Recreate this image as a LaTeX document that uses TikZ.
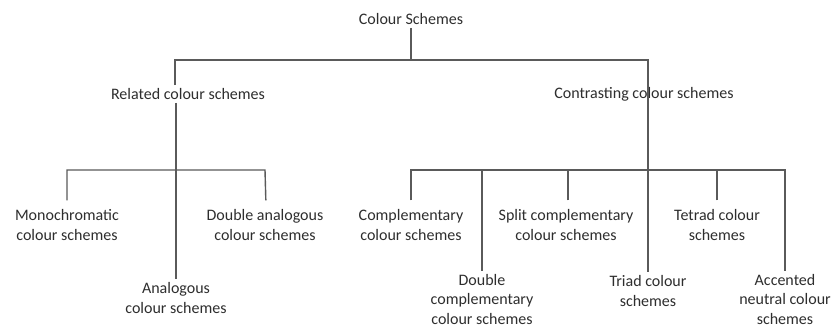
\documentclass[tikz,border=0pt]{standalone}
\usepackage{fontspec}
\setmainfont{Carlito}
\definecolor{txt}{HTML}{2E2E2E}
\definecolor{lnc}{HTML}{5A5A5A}
\begin{document}
\begin{tikzpicture}[x=1pt,y=-1pt,
  lbl/.style={text=txt,align=center,inner sep=3pt,font=\fontsize{16}{19.5}\selectfont},
  ln/.style={draw=lnc,line width=1.4pt},
  short/.style={shorten <=6pt}]
\fill[white] (0,0) rectangle (837,327);
\useasboundingbox (0,0) rectangle (837,327);
\coordinate (h1) at (0,60);
\coordinate (h2) at (0,170);
\node[lbl] (root) at (411,19) {Colour Schemes};
\node[lbl] (rel) at (188,94) {Related colour schemes};
\node[lbl] (con) at (644,94) {Contrasting colour schemes};
\node[lbl] (mono) at (67,225) {Monochromatic\\colour schemes};
\node[lbl] (danal) at (265,225) {Double analogous\\colour schemes};
\node[lbl] (anal) at (176,298) {Analogous\\colour schemes};
\node[lbl] (comp) at (411,225) {Complementary\\colour schemes};
\node[lbl] (dcomp) at (482,299) {Double\\complementary\\colour schemes};
\node[lbl] (split) at (566,225) {Split complementary\\colour schemes};
\node[lbl] (triad) at (648,291) {Triad colour\\schemes};
\node[lbl] (tetrad) at (717,225) {Tetrad colour\\schemes};
\node[lbl] (acc) at (785,299) {Accented\\neutral colour\\schemes};
% top level
\draw[ln] (root) -- (root |- h1);
\draw[ln] (rel.north -| 175,0) |- (triad |- h1) -- (triad);
% related branch
\draw[ln] (rel.south -| anal) -- (anal);
\draw[ln,shorten <=6pt,shorten >=6pt] (mono) |- (danal.north |- h2) -- (danal.north -| 266,0);
% contrasting branch
\draw[ln,short] (comp) |- (acc |- h2) -- (acc);
\draw[ln] (dcomp |- h2) -- (dcomp);
\draw[ln,short] (split.north -| 568,0) -- (568,170);
\draw[ln,short] (tetrad) -- (tetrad |- h2);
\end{tikzpicture}
\end{document}
